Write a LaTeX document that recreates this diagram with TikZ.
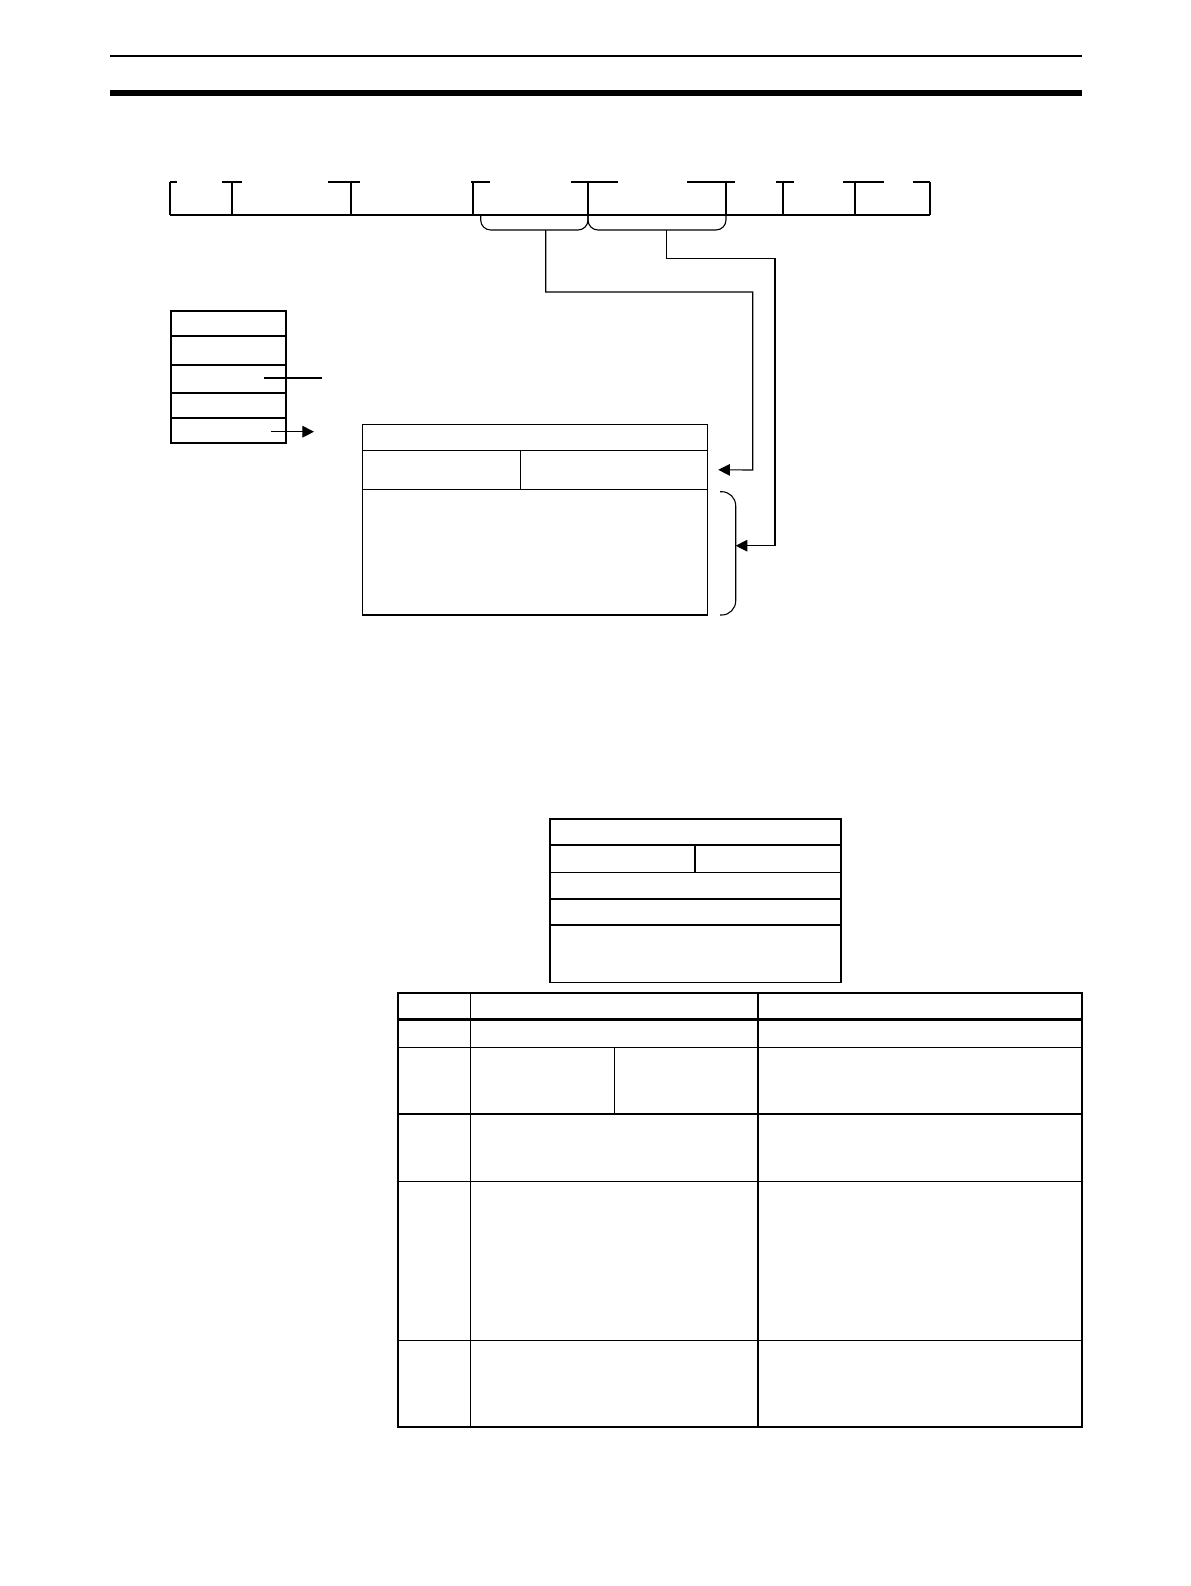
\documentclass[tikz,border=0pt]{standalone}
\usetikzlibrary{arrows.meta}

\begin{document}
\begin{tikzpicture}[x=0.5pt, y=-0.5pt,
    cell/.style={draw, line width=0.55pt, inner sep=0pt, outer sep=0pt, anchor=north west},
    link/.style={line width=0.55pt},
    tip/.style={-{Triangle[length=5.8pt, width=5.8pt]}},
    tbl/.style={line width=0.65pt},
    tblthick/.style={line width=1.35pt}
  ]
  \useasboundingbox (0,0) rectangle (1190,1586);

  % page rules
  \draw[line width=1pt] (110,56) -- (1082,56);
  \draw[line width=3pt] (110,93) -- (1082,93);

  % word frame
  \draw[link] (170,215) -- (930,215);
  \foreach \x/\a/\b in {170/170/177, 232/222/242, 351/328/360, 473/471/490,
      588/571/618, 726/687/735, 783/776/794, 855/843/884, 930/913/930} {
    \draw[link] (\x,215) -- (\x,182);
    \draw[link] (\a,182) -- (\b,182);
  }

  % braces under the frame
  \draw[link, rounded corners=5pt] (480.7,215) -- (480.7,230) -- (588,230) -- (588,215);
  \draw[link, rounded corners=5pt] (588,215) -- (588,230) -- (726,230) -- (726,215);
  \coordinate (bra) at (545.7,230);
  \coordinate (brb) at (666.7,230);

  % stack on the left
  \foreach \n/\y/\h in {1/311/12.5, 2/336/14.5, 3/365/14, 4/393/12.5, 5/418/12.5}
    \node[cell, minimum width=57.5pt, minimum height=\h pt] (slot\n) at (171,\y) {};
  \coordinate (mk1) at (264,377.5);
  \coordinate (mk2) at (322,377.5);
  \draw[line width=1pt] (mk1) -- (mk2);
  \coordinate (pt1) at (271,431.7);
  \coordinate (pt2) at (314,431.7);
  \draw[link, tip] (pt1) -- (pt2);

  % target box
  \node[cell, minimum width=172.7pt, minimum height=13pt] (hdr) at (362.3,424.3) {};
  \node[cell, minimum width=79pt, minimum height=19.5pt] (fa) at (362.3,450.3) {};
  \node[cell, minimum width=93.7pt, minimum height=19.5pt] (fb) at (520.3,450.3) {};
  \node[cell, minimum width=172.7pt, minimum height=62.85pt] (body) at (362.3,489.3) {};

  % bracket beside the body
  \draw[link, rounded corners=7pt] (720,491.7) -- (735.7,491.7) -- (735.7,615) -- (720,615);
  \coordinate (bmid) at (735.7,545.7);

  % connectors
  \draw[link, tip] (bra) -- (545.7,292) -| (752.7,470) -- ([xshift=5.3pt]fb.east);
  \draw[link, tip] (brb) |- (775,258.3) |- (bmid);

  % small register box
  \node[cell, minimum width=145.5pt, minimum height=13pt] (ra) at (550,819) {};
  \node[cell, minimum width=72.5pt, minimum height=13.75pt] (rb1) at (550,845) {};
  \node[cell, minimum width=73pt, minimum height=13.75pt] (rb2) at (695,845) {};
  \node[cell, minimum width=145.5pt, minimum height=13.25pt] (rc) at (550,872.5) {};
  \node[cell, minimum width=145.5pt, minimum height=13pt] (rd) at (550,899) {};
  \node[cell, minimum width=145.5pt, minimum height=28.85pt] (re) at (550,925) {};

  % table
  \draw[tblthick] (398,993) rectangle (1082,1427);
  \draw[tblthick] (398,1019.7) -- (1082,1019.7);
  \foreach \y in {1047.4, 1114, 1340.6}
    \draw[tbl] (398,\y) -- (1082,\y);
  \draw[tbl, line width=0.85pt] (398,1181.4) -- (1082,1181.4);
  \draw[tbl] (470.5,993) -- (470.5,1427);
  \draw[tbl] (758,993) -- (758,1427);
  \draw[tbl] (614.3,1047.4) -- (614.3,1114);
\end{tikzpicture}
\end{document}
